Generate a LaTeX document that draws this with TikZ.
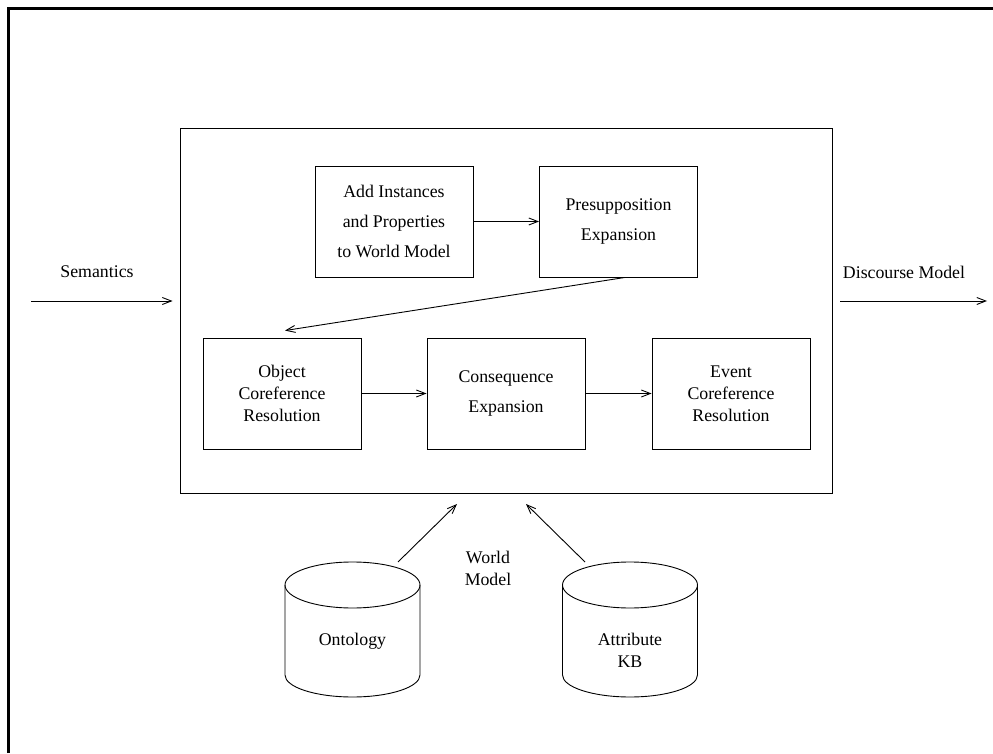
\documentclass[tikz,border=0pt]{standalone}
\usepackage{fontspec}
\setmainfont{Liberation Serif}
\usetikzlibrary{arrows.meta}

\NewDocumentCommand{\dbcyl}{mmmm}{%
\begin{scope}[shift={(#1,0)}]%
\draw (0,168) ellipse[x radius=67.5, y radius=23];
\draw (-67.5,168) -- (-67.5,78) arc[start angle=180, end angle=360, x radius=67.5, y radius=22] -- (67.5,168);
\node[txt] (#2) at (0,#3) {#4};
\end{scope}%
}

\begin{document}
\begin{tikzpicture}[x=1pt, y=1pt, line width=0.9pt,
        txt/.style={align=center, inner sep=0pt, font=\fontsize{17.8}{22}\selectfont},
        stage/.style={txt, draw, minimum width=158pt, minimum height=111pt},
        airy/.style={font=\fontsize{17.8}{30}\selectfont},
        flow/.style={-{Straight Barb[length=9pt, width=7pt]}}]
        \useasboundingbox (0,0) rectangle (993,753);

        % Frame.
        \draw[line width=3pt] (8.5,0) -- (8.5,744.5) -- (993,744.5);

        % Pipeline.
        \node[draw, minimum width=652pt, minimum height=365pt, inner sep=0pt] (core) at (506,442.5) {};
        \node[stage, airy] (addinst) at (394,531.5) {Add Instances\\and Properties\\to World Model};
        \node[stage, airy] (presup) at (618.5,531.5) {Presupposition\\Expansion};
        \node[stage] (objcoref) at (282,359.5) {Object\\Coreference\\Resolution};
        \node[stage, airy] (conseq) at (506,359.5) {Consequence\\Expansion};
        \node[stage] (evcoref) at (731,359.5) {Event\\Coreference\\Resolution};

        \draw[flow] (addinst) -- (presup);
        \draw[flow] ([xshift=6.5pt]presup.south) -- ([xshift=3pt, yshift=7pt]objcoref.north);
        \draw[flow] (objcoref) -- (conseq);
        \draw[flow] (conseq) -- (evcoref);

        % Input and output.
        \coordinate (semin) at (31,452);
        \coordinate (dmout) at (987,452);
        \node[txt] (semlab) at (97,481) {Semantics};
        \node[txt] (dmlab) at (904,481) {Discourse Model};
        \draw[flow, shorten >=7pt] (semin) -- (semin -| core.west);
        \draw[flow, shorten <=8pt] (dmout -| core.east) -- (dmout);

        % World model.
        \dbcyl{352.5}{onto}{112}{Ontology}
        \dbcyl{630}{attrkb}{103}{Attribute\\KB}
        \node[txt] (wmlab) at (488,185) {World\\Model};
        \coordinate (ontotop) at (398,191);
        \coordinate (attrtop) at (585,191);
        \coordinate (ontoend) at (457,249);
        \coordinate (attrend) at (526,249);
        \draw[flow] (ontotop) -- (ontoend);
        \draw[flow] (attrtop) -- (attrend);
    \end{tikzpicture}
\end{document}
